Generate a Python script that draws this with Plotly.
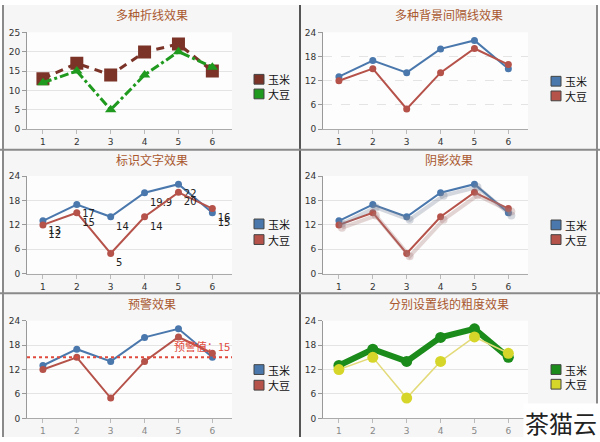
import plotly.graph_objects as go

# ---------------- data ----------------
x_vals = [1, 2, 3, 4, 5, 6]
corn = [13, 17, 14, 19.9, 22, 15]      # 玉米
soy = [12, 15, 5, 14, 20, 16]          # 大豆
series_names = ["玉米", "大豆"]
titles = ["多种折线效果", "多种背景间隔线效果", "标识文字效果",
          "阴影效果", "预警效果", "分别设置线的粗度效果"]
y_ticks_first = [0, 5, 10, 15, 20, 25]
y_ticks = [0, 6, 12, 18, 24]
warn_value = 15
warn_label = "预警值：15"
watermark = "茶猫云"

# ---------------- geometry helpers ----------------
W, H = 600, 442
def px(x): return x / W
def py(y): return 1 - y / H

col_px = [(27, 232), (323, 528)]
row_px = [(28, 127), (175, 275), (323, 423)]
panel_cols = [(3, 300), (300, 597)]
panel_rows = [(0, 148), (148, 295), (295, 442)]
title_y = [10, 158, 305]
legend_y = [(76, 91), (78, 93), (224, 240), (225, 240), (373, 389), (373, 388)]
legend_x = [254, 551]

BLUE = "#4a78ad"
RED = "#b5524a"
styles = [
    (dict(color="#7b3328", width=3, dash="8px,6px", sym="square", size=13),
     dict(color="#1f9a1f", width=3, dash="dashdot", sym="triangle-up", size=10)),
    (dict(color=BLUE, width=2, dash="solid", sym="circle", size=7),
     dict(color=RED, width=2, dash="solid", sym="circle", size=7)),
    (dict(color=BLUE, width=2, dash="solid", sym="circle", size=7),
     dict(color=RED, width=2, dash="solid", sym="circle", size=7)),
    (dict(color=BLUE, width=2, dash="solid", sym="circle", size=7),
     dict(color=RED, width=2, dash="solid", sym="circle", size=7)),
    (dict(color=BLUE, width=2, dash="solid", sym="circle", size=7),
     dict(color=RED, width=2, dash="solid", sym="circle", size=7)),
    (dict(color="#1b8c1b", width=6, dash="solid", sym="circle", size=11),
     dict(color="#e3da7a", width=1.5, dash="solid", sym="circle", size=11,
          mcolor="#d6d62a")),
]
legend_colors = [("#7b3328", "#1f9a1f"), (BLUE, RED), (BLUE, RED),
                 (BLUE, RED), (BLUE, RED), ("#1b8c1b", "#d6d62a")]

fig = go.Figure()
layout = dict(width=W, height=H, margin=dict(l=0, r=0, t=0, b=0),
              paper_bgcolor="white", plot_bgcolor="rgba(0,0,0,0)",
              showlegend=False, font=dict(family="Noto Sans CJK SC", color="#333"))
shapes = []
annotations = []

XR = [0.53, 6.58]

for i in range(6):
    r, c = divmod(i, 2)
    n = i + 1
    xname = "xaxis" if n == 1 else f"xaxis{n}"
    yname = "yaxis" if n == 1 else f"yaxis{n}"
    xref = "x" if n == 1 else f"x{n}"
    yref = "y" if n == 1 else f"y{n}"
    x0, x1 = col_px[c]
    ytop, ybot = row_px[r]
    ticks = y_ticks_first if i == 0 else y_ticks
    tick_color = "#333" if i < 4 else "#888"
    layout[xname] = dict(domain=[px(x0), px(x1)], range=XR, anchor=yref,
                         tickvals=x_vals, showgrid=False, zeroline=False,
                         showline=True, linecolor="#aaa", linewidth=1,
                         ticks="outside", ticklen=4, tickcolor="#bbb",
                         tickfont=dict(family="DejaVu Sans", size=9, color=tick_color))
    layout[yname] = dict(domain=[py(ybot), py(ytop)], range=[0, ticks[-1]],
                         anchor=xref, tickvals=ticks, showgrid=True,
                         gridcolor="#e4e4e4", griddash="dash" if i == 1 else "solid",
                         zeroline=False, showline=True, linecolor="#999",
                         linewidth=1, ticks="outside", ticklen=4, tickcolor="#999",
                         tickfont=dict(family="DejaVu Sans", size=9, color="#333"))

    pxa, pxb = panel_cols[c]
    pya, pyb = panel_rows[r]
    shapes.append(dict(type="rect", xref="paper", yref="paper", layer="below",
                       x0=px(pxa), x1=px(pxb), y0=py(pyb), y1=py(pya),
                       fillcolor="#f6f6f6", line=dict(width=0)))
    shapes.append(dict(type="rect", xref=f"{xref} domain", yref=f"{yref} domain",
                       layer="below", x0=0, x1=1, y0=0, y1=1,
                       fillcolor="#fdfdfd", line=dict(width=0)))

    annotations.append(dict(text=titles[i], xref="paper", yref="paper",
                            x=px((pxa + pxb) / 2), y=py(title_y[r]),
                            showarrow=False, xanchor="center", yanchor="middle",
                            font=dict(size=12, color="#a9582f",
                                      family="Noto Sans CJK SC")))

    lx = legend_x[c]
    for k in range(2):
        ly = legend_y[i][k]
        shapes.append(dict(type="rect", xref="paper", yref="paper",
                           x0=px(lx), x1=px(lx + 10), y0=py(ly + 5), y1=py(ly - 5),
                           fillcolor=legend_colors[i][k],
                           line=dict(color="#444", width=1)))
        annotations.append(dict(text=series_names[k], xref="paper", yref="paper",
                                x=px(lx + 12), y=py(ly), showarrow=False,
                                xanchor="left", yanchor="middle",
                                font=dict(size=11, color="#111",
                                          family="Noto Sans CJK SC")))

    if i == 3:
        dx = 3 / 34.0
        dy = 3 * 24 / 100.0
        layout["xaxis7"] = dict(overlaying="x4", range=[XR[0] - dx, XR[1] - dx],
                                anchor="y7", visible=False)
        layout["yaxis7"] = dict(overlaying="y4", range=[0 + dy, 24 + dy],
                                anchor="x7", visible=False)
        for vals, col in ((corn, "rgba(120,130,150,0.3)"), (soy, "rgba(170,120,120,0.3)")):
            fig.add_trace(go.Scatter(x=x_vals, y=vals, xaxis="x7", yaxis="y7",
                                     mode="lines+markers",
                                     line=dict(color=col, width=4),
                                     marker=dict(color=col, size=8),
                                     hoverinfo="skip"))

    for k, vals in enumerate((corn, soy)):
        st = styles[i][k]
        mode = "lines+markers"
        kw = {}
        if i == 2:
            mode = "lines+markers+text"
            kw = dict(text=[f"{v:g}" for v in vals], textposition="bottom right",
                      textfont=dict(family="DejaVu Sans", size=10, color="#222"))
        fig.add_trace(go.Scatter(
            x=x_vals, y=vals, xaxis=xref, yaxis=yref, name=series_names[k],
            mode=mode,
            line=dict(color=st["color"], width=st["width"], dash=st["dash"]),
            marker=dict(symbol=st["sym"], size=st["size"],
                        color=st.get("mcolor", st["color"])),
            **kw))

    if i == 4:
        shapes.append(dict(type="line", xref="x5 domain", yref="y5",
                           x0=0, x1=1, y0=warn_value, y1=warn_value,
                           line=dict(color="#e04a3c", width=2, dash="dot")))
        annotations.append(dict(text=warn_label, xref="x5 domain", yref="y5",
                                x=1, y=warn_value, xanchor="right", yanchor="bottom",
                                showarrow=False, yshift=1,
                                font=dict(size=11, color="#e04a3c",
                                          family="Noto Sans CJK SC")))

frame = "#8a8a8a"
shapes += [
    dict(type="line", xref="paper", yref="paper", x0=px(3), x1=px(3), y0=0, y1=1,
         line=dict(color=frame, width=2)),
    dict(type="line", xref="paper", yref="paper", x0=px(300), x1=px(300), y0=0, y1=1,
         line=dict(color="#555", width=2)),
    dict(type="line", xref="paper", yref="paper", x0=px(597), x1=px(597), y0=0, y1=1,
         line=dict(color=frame, width=2)),
    dict(type="line", xref="paper", yref="paper", x0=0, x1=1, y0=py(148), y1=py(148),
         line=dict(color=frame, width=2)),
    dict(type="line", xref="paper", yref="paper", x0=0, x1=1, y0=py(295), y1=py(295),
         line=dict(color=frame, width=2)),
]

annotations.append(dict(text=watermark, xref="paper", yref="paper",
                        x=px(599), y=py(427), xanchor="right", yanchor="middle",
                        showarrow=False, bgcolor="white",
                        font=dict(size=24, color="#222", family="Noto Sans CJK SC")))

layout["shapes"] = shapes
layout["annotations"] = annotations
fig.update_layout(**layout)
fig.write_html("out.html")
